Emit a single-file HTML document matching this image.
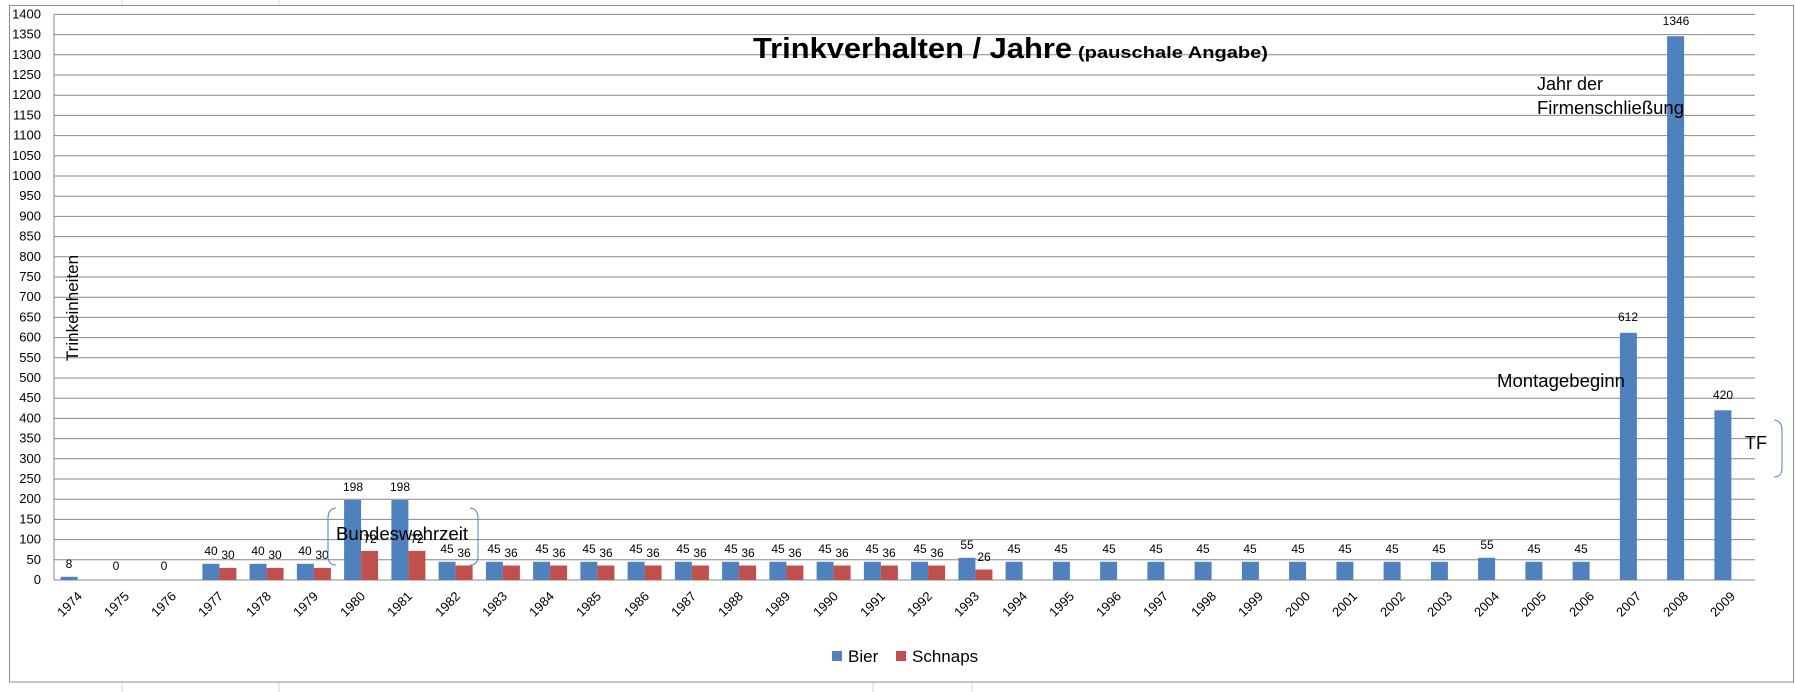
<!DOCTYPE html>
<html><head><meta charset="utf-8"><style>
html,body{margin:0;padding:0;background:#fff}
svg{display:block}
text{font-family:"Liberation Sans",sans-serif;fill:#000}
</style></head><body>
<svg width="1795" height="692" viewBox="0 0 1795 692" xmlns="http://www.w3.org/2000/svg">
<g stroke="#dadada" stroke-width="1">
<line x1="122" y1="0" x2="122" y2="6"/><line x1="279" y1="0" x2="279" y2="6"/><line x1="873" y1="682" x2="873" y2="692"/><line x1="972" y1="682" x2="972" y2="692"/><line x1="122" y1="682" x2="122" y2="692"/><line x1="279" y1="682" x2="279" y2="692"/>
</g>
<rect x="9.5" y="5.5" width="1784" height="676.5" fill="#fff" stroke="#8c8c8c"/>
<g stroke="#888" stroke-width="1">
<line x1="54" y1="559.8" x2="1755" y2="559.8"/><line x1="54" y1="539.6" x2="1755" y2="539.6"/><line x1="54" y1="519.4" x2="1755" y2="519.4"/><line x1="54" y1="499.2" x2="1755" y2="499.2"/><line x1="54" y1="479" x2="1755" y2="479"/><line x1="54" y1="458.8" x2="1755" y2="458.8"/><line x1="54" y1="438.6" x2="1755" y2="438.6"/><line x1="54" y1="418.4" x2="1755" y2="418.4"/><line x1="54" y1="398.2" x2="1755" y2="398.2"/><line x1="54" y1="378" x2="1755" y2="378"/><line x1="54" y1="357.8" x2="1755" y2="357.8"/><line x1="54" y1="337.6" x2="1755" y2="337.6"/><line x1="54" y1="317.4" x2="1755" y2="317.4"/><line x1="54" y1="297.2" x2="1755" y2="297.2"/><line x1="54" y1="277" x2="1755" y2="277"/><line x1="54" y1="256.8" x2="1755" y2="256.8"/><line x1="54" y1="236.6" x2="1755" y2="236.6"/><line x1="54" y1="216.4" x2="1755" y2="216.4"/><line x1="54" y1="196.2" x2="1755" y2="196.2"/><line x1="54" y1="176" x2="1755" y2="176"/><line x1="54" y1="155.8" x2="1755" y2="155.8"/><line x1="54" y1="135.6" x2="1755" y2="135.6"/><line x1="54" y1="115.4" x2="1755" y2="115.4"/><line x1="54" y1="95.2" x2="1755" y2="95.2"/><line x1="54" y1="75" x2="1755" y2="75"/><line x1="54" y1="54.8" x2="1755" y2="54.8"/><line x1="54" y1="34.6" x2="1755" y2="34.6"/><line x1="54" y1="14.4" x2="1755" y2="14.4"/>
<line x1="54" y1="580" x2="1755" y2="580"/><line x1="54" y1="14.4" x2="54" y2="580"/>
</g>
<g font-size="13" text-anchor="end">
<text x="41" y="584">0</text><text x="41" y="563.8">50</text><text x="41" y="543.6">100</text><text x="41" y="523.4">150</text><text x="41" y="503.2">200</text><text x="41" y="483">250</text><text x="41" y="462.8">300</text><text x="41" y="442.6">350</text><text x="41" y="422.4">400</text><text x="41" y="402.2">450</text><text x="41" y="382">500</text><text x="41" y="361.8">550</text><text x="41" y="341.6">600</text><text x="41" y="321.4">650</text><text x="41" y="301.2">700</text><text x="41" y="281">750</text><text x="41" y="260.8">800</text><text x="41" y="240.6">850</text><text x="41" y="220.4">900</text><text x="41" y="200.2">950</text><text x="41" y="180">1000</text><text x="41" y="159.8">1050</text><text x="41" y="139.6">1100</text><text x="41" y="119.4">1150</text><text x="41" y="99.2">1200</text><text x="41" y="79">1250</text><text x="41" y="58.8">1300</text><text x="41" y="38.6">1350</text><text x="41" y="18.4">1400</text>
</g>
<g fill="#4F81BD">
<rect x="60.6" y="576.8" width="17" height="3.2"/>
<rect x="202.4" y="563.8" width="17" height="16.2"/><rect x="249.6" y="563.8" width="17" height="16.2"/><rect x="296.9" y="563.8" width="17" height="16.2"/>
<rect x="344.1" y="500" width="17" height="80"/><rect x="391.4" y="500" width="17" height="80"/>
<rect x="438.6" y="561.8" width="17" height="18.2"/><rect x="485.9" y="561.8" width="17" height="18.2"/><rect x="533.1" y="561.8" width="17" height="18.2"/><rect x="580.4" y="561.8" width="17" height="18.2"/><rect x="627.6" y="561.8" width="17" height="18.2"/><rect x="674.9" y="561.8" width="17" height="18.2"/><rect x="722.1" y="561.8" width="17" height="18.2"/><rect x="769.4" y="561.8" width="17" height="18.2"/><rect x="816.6" y="561.8" width="17" height="18.2"/><rect x="863.9" y="561.8" width="17" height="18.2"/><rect x="911.1" y="561.8" width="17" height="18.2"/>
<rect x="958.4" y="557.8" width="17" height="22.2"/>
<rect x="1005.6" y="561.8" width="17" height="18.2"/><rect x="1052.9" y="561.8" width="17" height="18.2"/><rect x="1100.1" y="561.8" width="17" height="18.2"/><rect x="1147.4" y="561.8" width="17" height="18.2"/><rect x="1194.6" y="561.8" width="17" height="18.2"/><rect x="1241.9" y="561.8" width="17" height="18.2"/><rect x="1289.1" y="561.8" width="17" height="18.2"/><rect x="1336.4" y="561.8" width="17" height="18.2"/><rect x="1383.6" y="561.8" width="17" height="18.2"/><rect x="1430.9" y="561.8" width="17" height="18.2"/>
<rect x="1478.1" y="557.8" width="17" height="22.2"/>
<rect x="1525.4" y="561.8" width="17" height="18.2"/><rect x="1572.6" y="561.8" width="17" height="18.2"/>
<rect x="1619.9" y="332.8" width="17" height="247.2"/>
<rect x="1667.1" y="36.2" width="17" height="543.8"/>
<rect x="1714.4" y="410.3" width="17" height="169.7"/>
</g>
<g fill="#C0504D">
<rect x="219.4" y="567.9" width="17" height="12.1"/><rect x="266.6" y="567.9" width="17" height="12.1"/><rect x="313.9" y="567.9" width="17" height="12.1"/>
<rect x="361.1" y="550.9" width="17" height="29.1"/><rect x="408.4" y="550.9" width="17" height="29.1"/>
<rect x="455.6" y="565.5" width="17" height="14.5"/><rect x="502.9" y="565.5" width="17" height="14.5"/><rect x="550.1" y="565.5" width="17" height="14.5"/><rect x="597.4" y="565.5" width="17" height="14.5"/><rect x="644.6" y="565.5" width="17" height="14.5"/><rect x="691.9" y="565.5" width="17" height="14.5"/><rect x="739.1" y="565.5" width="17" height="14.5"/><rect x="786.4" y="565.5" width="17" height="14.5"/><rect x="833.6" y="565.5" width="17" height="14.5"/><rect x="880.9" y="565.5" width="17" height="14.5"/><rect x="928.1" y="565.5" width="17" height="14.5"/>
<rect x="975.4" y="569.5" width="17" height="10.5"/>
</g>
<g font-size="12" text-anchor="middle">
<text x="69" y="568">8</text><text x="116" y="570">0</text><text x="164" y="570">0</text>
<text x="211" y="555">40</text><text x="258" y="555">40</text><text x="305" y="555">40</text>
<text x="228" y="559">30</text><text x="275" y="559">30</text><text x="322" y="559">30</text>
<text x="353" y="491">198</text><text x="400" y="491">198</text>
<text x="370" y="543">72</text><text x="417" y="543">72</text>
<text x="447" y="553">45</text><text x="494" y="553">45</text><text x="542" y="553">45</text><text x="589" y="553">45</text><text x="636" y="553">45</text><text x="683" y="553">45</text><text x="731" y="553">45</text><text x="778" y="553">45</text><text x="825" y="553">45</text><text x="872" y="553">45</text><text x="920" y="553">45</text>
<text x="464" y="557">36</text><text x="511" y="557">36</text><text x="559" y="557">36</text><text x="606" y="557">36</text><text x="653" y="557">36</text><text x="700" y="557">36</text><text x="748" y="557">36</text><text x="795" y="557">36</text><text x="842" y="557">36</text><text x="889" y="557">36</text><text x="937" y="557">36</text>
<text x="967" y="549">55</text><text x="984" y="561">26</text>
<text x="1014" y="553">45</text><text x="1061" y="553">45</text><text x="1109" y="553">45</text><text x="1156" y="553">45</text><text x="1203" y="553">45</text><text x="1250" y="553">45</text><text x="1298" y="553">45</text><text x="1345" y="553">45</text><text x="1392" y="553">45</text><text x="1439" y="553">45</text>
<text x="1487" y="549">55</text><text x="1534" y="553">45</text><text x="1581" y="553">45</text>
<text x="1628" y="321">612</text><text x="1676" y="25">1346</text><text x="1723" y="399">420</text>
</g>
<g font-size="13" text-anchor="end">
<text transform="translate(83,597) rotate(-45)">1974</text><text transform="translate(130,597) rotate(-45)">1975</text><text transform="translate(177,597) rotate(-45)">1976</text><text transform="translate(224,597) rotate(-45)">1977</text><text transform="translate(272,597) rotate(-45)">1978</text><text transform="translate(319,597) rotate(-45)">1979</text><text transform="translate(366,597) rotate(-45)">1980</text><text transform="translate(413,597) rotate(-45)">1981</text><text transform="translate(461,597) rotate(-45)">1982</text><text transform="translate(508,597) rotate(-45)">1983</text><text transform="translate(555,597) rotate(-45)">1984</text><text transform="translate(602,597) rotate(-45)">1985</text><text transform="translate(650,597) rotate(-45)">1986</text><text transform="translate(697,597) rotate(-45)">1987</text><text transform="translate(744,597) rotate(-45)">1988</text><text transform="translate(791,597) rotate(-45)">1989</text><text transform="translate(839,597) rotate(-45)">1990</text><text transform="translate(886,597) rotate(-45)">1991</text><text transform="translate(933,597) rotate(-45)">1992</text><text transform="translate(980,597) rotate(-45)">1993</text><text transform="translate(1028,597) rotate(-45)">1994</text><text transform="translate(1075,597) rotate(-45)">1995</text><text transform="translate(1122,597) rotate(-45)">1996</text><text transform="translate(1169,597) rotate(-45)">1997</text><text transform="translate(1217,597) rotate(-45)">1998</text><text transform="translate(1264,597) rotate(-45)">1999</text><text transform="translate(1311,597) rotate(-45)">2000</text><text transform="translate(1358,597) rotate(-45)">2001</text><text transform="translate(1406,597) rotate(-45)">2002</text><text transform="translate(1453,597) rotate(-45)">2003</text><text transform="translate(1500,597) rotate(-45)">2004</text><text transform="translate(1547,597) rotate(-45)">2005</text><text transform="translate(1595,597) rotate(-45)">2006</text><text transform="translate(1642,597) rotate(-45)">2007</text><text transform="translate(1689,597) rotate(-45)">2008</text><text transform="translate(1736,597) rotate(-45)">2009</text>
</g>
<text transform="translate(78,308) rotate(-90)" font-size="17" text-anchor="middle">Trinkeinheiten</text>
<text x="753" y="58" font-size="29" font-weight="bold" textLength="319" lengthAdjust="spacingAndGlyphs">Trinkverhalten / Jahre</text>
<text x="1078" y="58" font-size="17" font-weight="bold" textLength="190" lengthAdjust="spacingAndGlyphs">(pauschale Angabe)</text>
<path d="M336,508 Q328,509 328,518 L328,556 Q328,565 336,565" fill="none" stroke="#4F81BD" stroke-width="1"/>
<path d="M470,508 Q478,509 478,518 L478,556 Q478,565 470,565" fill="none" stroke="#4F81BD" stroke-width="1"/>
<text x="336" y="540" font-size="18" textLength="132" lengthAdjust="spacingAndGlyphs">Bundeswehrzeit</text>
<text x="1537" y="90" font-size="18">Jahr der</text>
<text x="1537" y="114" font-size="18" textLength="147" lengthAdjust="spacingAndGlyphs">Firmenschließung</text>
<text x="1497" y="387" font-size="18" textLength="128" lengthAdjust="spacingAndGlyphs">Montagebeginn</text>
<path d="M1774,420 Q1782,421 1782,430 L1782,468 Q1782,477 1774,477" fill="none" stroke="#4F81BD" stroke-width="1"/>
<text x="1745" y="449" font-size="18">TF</text>
<rect x="832" y="651" width="10" height="10" fill="#4F81BD"/>
<text x="848" y="662" font-size="17">Bier</text>
<rect x="896" y="651" width="10" height="10" fill="#C0504D"/>
<text x="912" y="662" font-size="17">Schnaps</text>
</svg>
</body></html>
